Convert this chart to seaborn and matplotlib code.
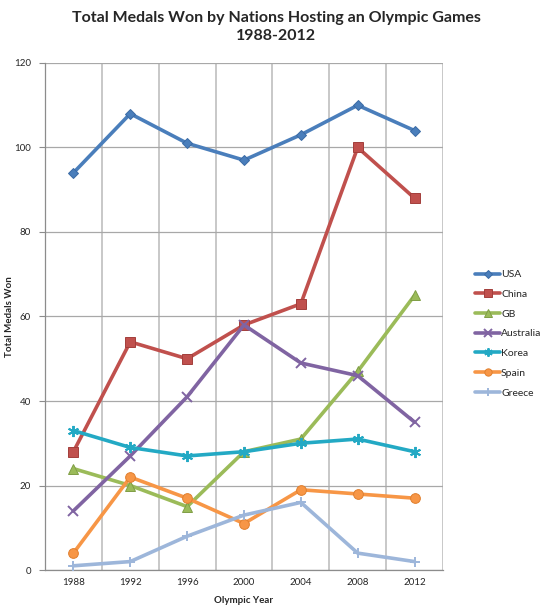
import matplotlib
matplotlib.use("Agg")
import matplotlib.pyplot as plt
import pandas as pd
import seaborn as sns

# ========================================
# Dati: medaglie totali delle nazioni ospitanti
# ========================================
years = ["1988", "1992", "1996", "2000", "2004", "2008", "2012"]
usa = [94, 108, 101, 97, 103, 110, 104]
china = [28, 54, 50, 58, 63, 100, 88]
gb = [24, 20, 15, 28, 31, 47, 65]
australia = [14, 27, 41, 58, 49, 46, 35]
korea = [33, 29, 27, 28, 30, 31, 28]
spain = [4, 22, 17, 11, 19, 18, 17]
greece = [1, 2, 8, 13, 16, 4, 2]

series = {
    "USA": usa,
    "China": china,
    "GB": gb,
    "Australia": australia,
    "Korea": korea,
    "Spain": spain,
    "Greece": greece,
}

colors = {
    "USA": "#4A7EBB",
    "China": "#C0504D",
    "GB": "#9BBB59",
    "Australia": "#8064A2",
    "Korea": "#23A9C4",
    "Spain": "#F79646",
    "Greece": "#9DB6DA",
}
edges = {
    "USA": "#3A6AA5",
    "China": "#A33E3B",
    "GB": "#7F9E45",
    "Australia": "#6A5190",
    "Korea": "#1C93AB",
    "Spain": "#E07F2E",
    "Greece": "#8AA4CA",
}
markers = {
    "USA": "D",
    "China": "s",
    "GB": "^",
    "Australia": "x",
    "Korea": (6, 2, 0),
    "Spain": "o",
    "Greece": "+",
}
msizes = {"USA": 5, "China": 7, "GB": 7, "Australia": 7,
          "Korea": 8, "Spain": 7, "Greece": 7}
line_markers = ("x", "+", (6, 2, 0))

sns.set_style("white")
plt.rcParams["font.family"] = ["Lato", "DejaVu Sans"]

fig = plt.figure(figsize=(5.52, 6.09), dpi=100)
ax = fig.add_axes([0.0815, 0.064, 0.721, 0.8326])

pos = list(range(len(years)))
for name, vals in series.items():
    df = pd.DataFrame({"x": pos, "y": vals})
    m = markers[name]
    is_line = m in line_markers
    sns.lineplot(data=df, x="x", y="y", ax=ax, color=colors[name],
                 linewidth=2.6, marker=m, markersize=msizes[name],
                 markeredgecolor=colors[name] if is_line else edges[name],
                 markeredgewidth=1.4 if is_line else 0.7, label=name, zorder=3)

# ========================================
# Assi e griglia in stile Excel
# ========================================
ax.set_xlim(-0.5, len(years) - 0.5)
ax.set_ylim(0, 120)
ax.set_xticks(pos)
ax.set_xticklabels(years)
ax.set_xticks([p - 0.5 for p in range(len(years) + 1)], minor=True)
ax.set_yticks(range(0, 121, 20))

ax.grid(True, which="minor", axis="x", color="#C8C8C8", linewidth=1.4)
ax.grid(True, which="major", axis="y", color="#A8A8A8", linewidth=0.9)
ax.grid(False, which="major", axis="x")
ax.set_axisbelow(True)

for side in ["top", "right"]:
    ax.spines[side].set_visible(False)
for side in ["left", "bottom"]:
    ax.spines[side].set_color("#8C8C8C")
    ax.spines[side].set_linewidth(0.9)

ax.tick_params(axis="x", which="major", length=0, labelsize=7, pad=6)
ax.tick_params(axis="x", which="minor", length=4, color="#8C8C8C", direction="out")
ax.tick_params(axis="y", which="major", length=4, color="#8C8C8C", labelsize=7,
               direction="out", pad=6, left=True)

ax.set_xlabel("Olympic Year", fontsize=7, fontweight="bold", labelpad=6)
ax.set_ylabel("Total Medals Won", fontsize=7, fontweight="bold")
ax.yaxis.set_label_coords(-0.078, 0.5)

fig.suptitle("Total Medals Won by Nations Hosting an Olympic Games\n1988-2012",
             fontsize=11.5, fontweight="bold", y=0.982, linespacing=1.35)

leg = ax.legend(loc="center left", bbox_to_anchor=(1.07, 0.466), frameon=False,
                fontsize=7.5, handlelength=2.4, handletextpad=0.1, labelspacing=1.0,
                borderaxespad=0, markerscale=0.75)

fig.savefig("out.png", dpi=100)
